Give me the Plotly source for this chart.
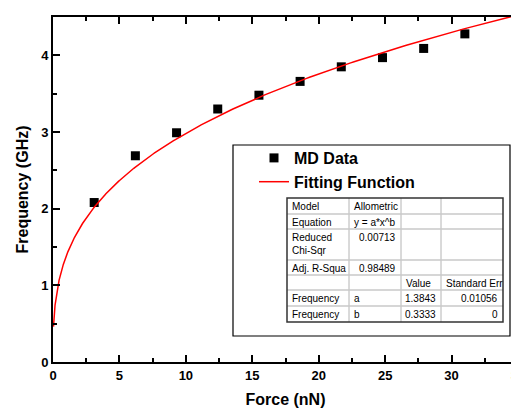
import numpy as np
import plotly.graph_objects as go

# ---- data ----
force_nN = [3.1, 6.2, 9.3, 12.4, 15.5, 18.6, 21.7, 24.8, 27.9, 31.0]
freq_GHz = [2.08, 2.69, 2.99, 3.30, 3.48, 3.66, 3.85, 3.97, 4.09, 4.28]

fit_a = 1.3843
fit_b = 0.3333
fit_x_start = 0.037
fit_x_end = 35.0

x_ticks = [0, 5, 10, 15, 20, 25, 30, 35]
y_ticks = [0, 1, 2, 3, 4]

table_rows = [
    ["Model", "Allometric", "", ""],
    ["Equation", "y = a*x^b", "", ""],
    ["Reduced<br>Chi-Sqr", "0.00713", "", ""],
    ["Adj. R-Squa", "0.98489", "", ""],
    ["", "", "Value", "Standard Err"],
    ["Frequency", "a", "1.3843", "0.01056"],
    ["Frequency", "b", "0.3333", "0"],
]

# ---- layout geometry (page pixels; the page body adds an 8px offset) ----
PAGE_W, PAGE_H = 519, 408
OFF = 8
W, H = PAGE_W - OFF, PAGE_H - OFF
L, R, T, B = 53, 518, 17, 362
FONT = "Liberation Sans, Arial, sans-serif"


def px_x(p):
    return (p - L) / (R - L)


def px_y(p):
    return (B - p) / (B - T)


fit_x = np.geomspace(fit_x_start, fit_x_end, 600)
fit_y = fit_a * fit_x ** fit_b

fig = go.Figure()
fig.add_trace(go.Scatter(
    x=force_nN, y=freq_GHz, mode="markers", name="MD Data",
    marker=dict(symbol="square", size=9, color="black"),
    cliponaxis=False,
))
fig.add_trace(go.Scatter(
    x=fit_x, y=fit_y, mode="lines", name="Fitting Function",
    line=dict(color="#ff0000", width=1.5),
))

axis_common = dict(
    showline=True, linecolor="black", linewidth=2, mirror="allticks",
    ticks="inside", ticklen=7, tickwidth=1.5, tickcolor="black",
    showgrid=False, zeroline=False, automargin=False, ticklabeloverflow="allow",
    tickfont=dict(family=FONT, size=13, color="black", weight="bold"),
    minor=dict(ticks="inside", ticklen=4, tickwidth=1.5, tickcolor="black", showgrid=False),
)

fig.update_xaxes(
    range=[0, 35], tickvals=x_ticks, ticktext=[str(v) for v in x_ticks],
    title=dict(text="Force (nN)", font=dict(family=FONT, size=16, color="black", weight="bold"), standoff=12),
    **axis_common,
)
fig.update_xaxes(minor_dtick=2.5, minor_tick0=0)
fig.update_yaxes(
    range=[0, 4.5], tickvals=y_ticks, ticktext=[str(v) for v in y_ticks],
    title=dict(text="Frequency (GHz)", font=dict(family=FONT, size=16, color="black", weight="bold"), standoff=9),
    **axis_common,
)
fig.update_yaxes(minor_dtick=0.5, minor_tick0=0)

shapes = []
annotations = []

# legend frame
shapes.append(dict(type="rect", xref="paper", yref="paper",
                   x0=px_x(233), x1=px_x(510), y0=px_y(336), y1=px_y(145),
                   line=dict(color="black", width=1.2), fillcolor="white", layer="below"))

# table grid
col_edges = [287, 349, 401, 441, 503]
row_edges = [198, 214, 229, 260, 275, 290, 306, 322]
for ce in col_edges[1:-1]:
    shapes.append(dict(type="line", xref="paper", yref="paper",
                       x0=px_x(ce), x1=px_x(ce), y0=px_y(row_edges[0]), y1=px_y(row_edges[-1]),
                       line=dict(color="#b4b4b4", width=1)))
for re_ in row_edges[1:-1]:
    shapes.append(dict(type="line", xref="paper", yref="paper",
                       x0=px_x(col_edges[0]), x1=px_x(col_edges[-1]), y0=px_y(re_), y1=px_y(re_),
                       line=dict(color="#c8c8c8", width=1.5)))
shapes.append(dict(type="rect", xref="paper", yref="paper",
                   x0=px_x(col_edges[0]), x1=px_x(col_edges[-1]),
                   y0=px_y(row_edges[-1]), y1=px_y(row_edges[0]),
                   line=dict(color="#333333", width=1.5)))


def is_num(s):
    try:
        float(s)
        return True
    except ValueError:
        return False


for ri, row in enumerate(table_rows):
    for ci, txt in enumerate(row):
        if not txt:
            continue
        right = is_num(txt)
        xpx = col_edges[ci + 1] - 3 if right else col_edges[ci] + 3
        annotations.append(dict(
            text=txt, xref="paper", yref="paper", showarrow=False,
            x=px_x(xpx), y=px_y(row_edges[ri] + 1),
            xanchor="right" if right else "left", yanchor="top", align="left",
            font=dict(family=FONT, size=10, color="black"),
        ))

fig.update_layout(
    width=W, height=H,
    margin=dict(l=L - OFF, r=PAGE_W - R, t=T - OFF, b=PAGE_H - B, autoexpand=False),
    paper_bgcolor="white", plot_bgcolor="white",
    shapes=shapes, annotations=annotations,
    showlegend=True,
    legend=dict(x=px_x(254), y=px_y(141), xanchor="left", yanchor="top",
                bgcolor="rgba(0,0,0,0)", borderwidth=0,
                font=dict(family=FONT, size=16, color="black", weight="bold"),
                tracegroupgap=0, itemwidth=30),
)

fig.write_html("out.html")
